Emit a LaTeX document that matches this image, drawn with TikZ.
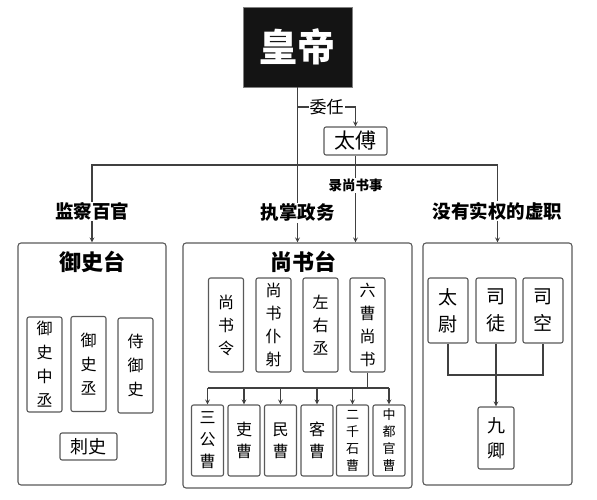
\documentclass[tikz,border=0pt]{standalone}
\usepackage{fontspec}
\setmainfont{Noto Sans CJK SC}
\usepackage{tikz}

\tikzset{
  panel/.style={draw=black!65, rounded corners=3pt, line width=1.1pt},
  office/.style={draw=black!65, rounded corners=2pt, line width=1.1pt,
    fill=white, align=center, inner sep=1pt},
  tall/.style={office, minimum width=35pt, minimum height=95pt,
    font=\fontsize{16}{23}\selectfont},
  cao/.style={office, minimum width=32pt, minimum height=71pt,
    font=\fontsize{16}{22}\selectfont},
  lbl/.style={fill=white, inner sep=1pt, font=\bfseries\fontsize{18.5}{20}\selectfont},
  link/.style={draw=black!75, line width=1.2pt},
}

\begin{document}
\begin{tikzpicture}[x=1pt, y=-1pt, >=stealth]
    \useasboundingbox (0,0) rectangle (597,500);

    % top
    \node[draw=black!50, fill=black!92, minimum width=109pt, minimum height=80pt,
        text=white, font=\bfseries\fontsize{38}{40}\selectfont]
        (emperor) at (297.5,47) {皇帝};
    \node[office, minimum width=63pt, minimum height=28pt,
        font=\fontsize{21}{22}\selectfont]
        (taifu) at (355.5,141) {太傅};
    \coordinate (wrfork) at (297.5,107);
    \coordinate (bar) at (297.5,165);

    % panels
    \node[panel, minimum width=148pt, minimum height=242pt] (yushitai) at (92,364) {};
    \node[panel, minimum width=229pt, minimum height=245pt] (shangshutai) at (297.5,365.5) {};
    \node[panel, minimum width=149pt, minimum height=242pt] (xuzhi) at (497.5,364) {};
    \node[font=\bfseries\fontsize{22}{24}\selectfont] (yst) at (92,262) {御史台};
    \node[font=\bfseries\fontsize{22}{24}\selectfont] (sst) at (303,262) {尚书台};

    % yushitai
    \node[tall, font=\fontsize{16}{24}\selectfont] (zhongcheng) at (44.5,364.5) {御\\史\\中\\丞};
    \node[tall, font=\fontsize{16}{24}\selectfont] (yushicheng) at (88.5,364) {御\\史\\丞};
    \node[tall, font=\fontsize{16}{24}\selectfont] (shiyushi) at (135.5,365.5) {侍\\御\\史};
    \node[office, minimum width=57pt, minimum height=27pt,
        font=\fontsize{18}{20}\selectfont] (cishi) at (88.5,446.5) {刺史};

    % shangshutai
    \node[tall, minimum height=94pt] (ling) at (226,325) {尚\\书\\令};
    \node[tall, minimum height=94pt] (puye) at (273.5,325) {尚\\书\\仆\\射};
    \node[tall, minimum height=94pt] (zuoyou) at (320.5,325) {左\\右\\丞};
    \node[tall, minimum height=94pt] (liucao) at (367.5,325) {六\\曹\\尚\\书};
    \node[cao] (sangong) at (207.5,440.5) {三\\公\\曹};
    \node[cao] (li) at (244,440.5) {吏\\曹};
    \node[cao] (min) at (280.5,440.5) {民\\曹};
    \node[cao] (ke) at (317,440.5) {客\\曹};
    \node[cao, font=\fontsize{13}{17}\selectfont] (erqian) at (352.5,440.5) {二\\千\\石\\曹};
    \node[cao, font=\fontsize{13}{17}\selectfont] (zhongdu) at (389,440.5) {中\\都\\官\\曹};
    \coordinate (lcfork) at (367.5,388);

    % xuzhi
    \node[office, minimum width=40pt, minimum height=65pt,
        font=\fontsize{19}{27}\selectfont] (taiwei) at (448,310.5) {太\\尉};
    \node[office, minimum width=40pt, minimum height=65pt,
        font=\fontsize{19}{27}\selectfont] (situ) at (496,310.5) {司\\徒};
    \node[office, minimum width=40pt, minimum height=65pt,
        font=\fontsize{19}{27}\selectfont] (sikong) at (543,310.5) {司\\空};
    \node[office, minimum width=36pt, minimum height=62pt,
        font=\fontsize{18}{25}\selectfont] (jiuqing) at (496,438) {九\\卿};
    \coordinate (sgbar) at (496,375);

    % connectors
    \draw[link] (bar -| yushitai.north) -- (bar -| xuzhi.north);
    \draw[link, ->] (emperor.south) -- node[lbl, pos=0.81] {执掌政务} (shangshutai.north);
    \draw[link, ->] (wrfork) -| node[lbl, pos=0.25, font=\fontsize{17}{18}\selectfont] {委任} (taifu.north);
    \draw[link, ->] (taifu.south) -- node[lbl, pos=0.34, font=\bfseries\fontsize{13.5}{15}\selectfont] {录尚书事}
        (taifu.south |- shangshutai.north);
    \draw[link, ->] (bar) -| node[lbl, pos=0.8] {监察百官} (yushitai.north);
    \draw[link, ->] (bar) -| node[lbl, pos=0.8] {没有实权的虚职} (xuzhi.north);

    \draw[link] (liucao.south) -- (lcfork);
    \draw[link] (sangong.north |- lcfork) -- (zhongdu.north |- lcfork);
    \draw[link, ->] (sangong.north |- lcfork) -- (sangong.north);
    \draw[link, ->] (li.north |- lcfork) -- (li.north);
    \draw[link, ->] (min.north |- lcfork) -- (min.north);
    \draw[link, ->] (ke.north |- lcfork) -- (ke.north);
    \draw[link, ->] (erqian.north |- lcfork) -- (erqian.north);
    \draw[link, ->] (zhongdu.north |- lcfork) -- (zhongdu.north);

    \draw[link] (taiwei.south) |- (sgbar) -| (sikong.south);
    \draw[link, ->] (situ.south) -- (jiuqing.north);
\end{tikzpicture}
\end{document}
